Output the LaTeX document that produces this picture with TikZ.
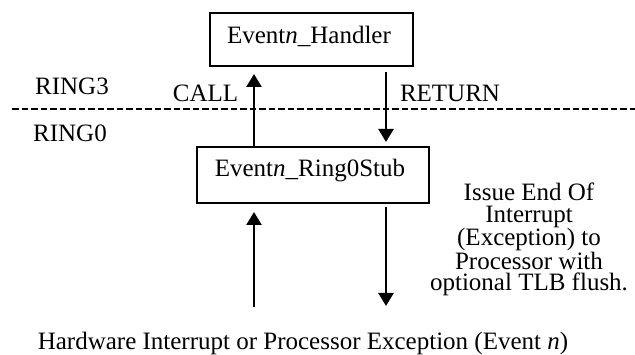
\documentclass[tikz,border=0pt]{standalone}
\usepackage{fontspec}
\setmainfont{Liberation Serif}
\usetikzlibrary{arrows.meta}

\tikzset{
  every node/.style={font=\fontsize{25}{21.5}\selectfont, inner sep=0pt},
  flow/.style={line width=2.5pt, -{Triangle[width=15pt,length=13pt]}},
  ringline/.style={line width=2pt, dash pattern=on 6.5pt off 3pt},
  boxline/.style={line width=1.3pt},
  label/.style={anchor=base},
}

\begin{document}
\begin{tikzpicture}[x=1pt,y=-1pt]
  \useasboundingbox (0,0) rectangle (635,355);
  \clip (0,0) rectangle (635,355);

  % privilege boundary
  \coordinate (lineL) at (12,109);
  \coordinate (lineR) at (635,109);
  \draw[ringline] (lineL) -- (lineR);
  \node[label] (ring3) at (72,95) {RING3};
  \node[label] (ring0) at (70,142) {RING0};

  % handler and stub boxes
  \draw[boxline] (210,13) rectangle (413,66);
  \node[label] (handler) at (309,44) {Event\textit{n}\_Handler};
  \draw[boxline] (197,147) rectangle (429,203);
  \node[label] (stub) at (310,177) {Event\textit{n}\_Ring0Stub};

  % arrow end points
  \coordinate (callS) at (254,147);
  \coordinate (callE) at (254,74);
  \coordinate (retS)  at (386,72);
  \coordinate (retE)  at (386,142);
  \coordinate (hwS)   at (254,307);
  \coordinate (hwE)   at (254,212);
  \coordinate (eoiS)  at (386,207);
  \coordinate (eoiE)  at (386,306);

  \draw[flow] (callS) -- (callE);
  \draw[flow] (retS) -- (retE);
  \draw[flow] (hwS) -- (hwE);
  \draw[flow] (eoiS) -- (eoiE);

  \node[label] (call) at (205.5,102) {CALL};
  \node[label] (ret) at (450,102) {RETURN};

  % base anchor of a multi-line node sits on its last line
  \node[anchor=base, align=center] (eoi) at (529,291)
    {Issue End Of\\Interrupt\\(Exception) to\\Processor with\\optional TLB flush.};

  \node[label] (hw) at (303,350)
    {Hardware Interrupt or Processor Exception (Event \textit{n})};
\end{tikzpicture}
\end{document}
